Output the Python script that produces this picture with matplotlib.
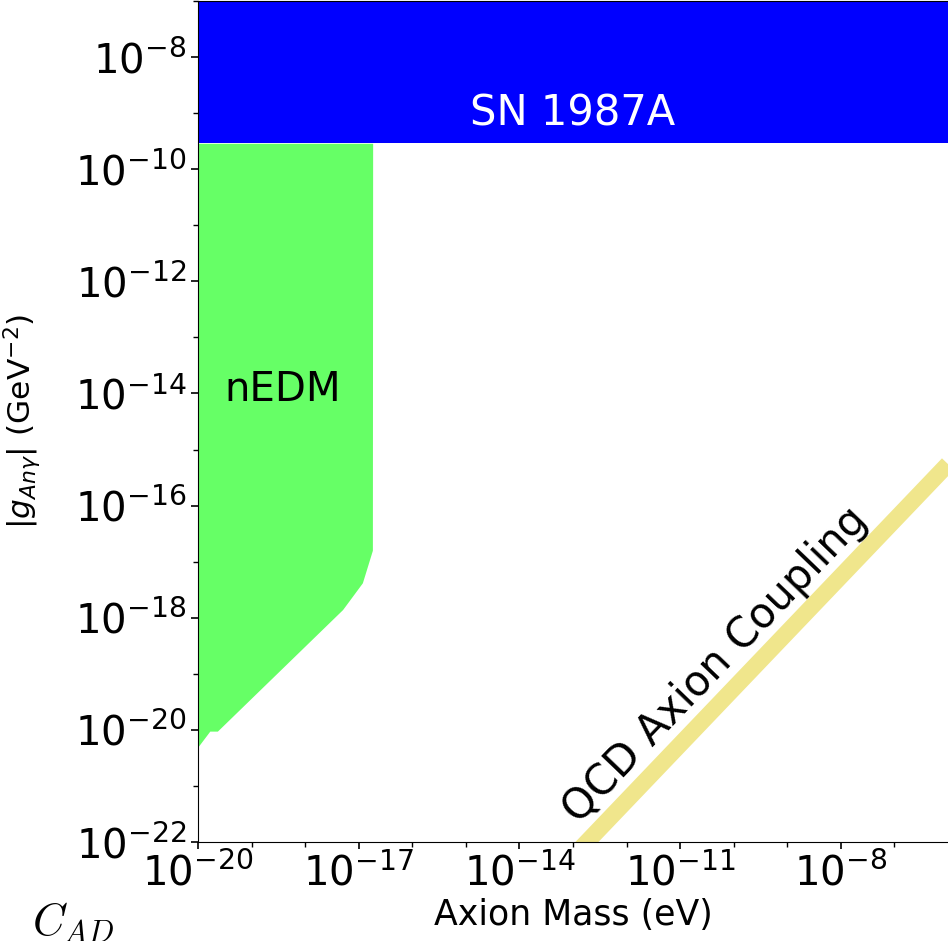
import numpy as np
import matplotlib.pyplot as plt
from matplotlib.ticker import NullFormatter

# bounds
sn_mass = [1e-20, 1e-6]
sn_g_low = [2.9e-10, 2.9e-10]
sn_g_high = [1e-6, 1e-6]

nedm_mass = [1e-20, 1.66e-20, 2.3e-20, 5.0e-18, 1.17e-17, 1.8e-17, 1.82e-17]
nedm_g_low = [5.0e-21, 9.5e-21, 9.5e-21, 1.4e-18, 4.2e-18, 1.6e-17, 2.9e-10]
nedm_g_high = [2.9e-10] * 7

qcd_mass = [1e-14, 1e-6]
qcd_g = [5.5e-24, 5.5e-16]

fig = plt.figure(figsize=(9.48, 9.41), dpi=100)
ax = fig.add_axes([198 / 948, 99 / 941, 750 / 948, 841 / 941])
ax.set_xscale('log')
ax.set_yscale('log')

ax.fill_between(sn_mass, sn_g_low, sn_g_high, color='#0000ff', lw=0)
ax.fill_between(nedm_mass, nedm_g_low, nedm_g_high, color='#66ff66', lw=0)
ax.plot(qcd_mass, qcd_g, color='khaki', lw=12, solid_capstyle='butt')

ax.text(1e-13, 1e-9, 'SN 1987A', color='white', fontsize=30, ha='center', va='center')
ax.text(10**-18.42, 10**-13.93, 'nEDM', color='black', fontsize=29, ha='center', va='center')
ax.text(10**-10.35, 10**-18.84, 'QCD Axion Coupling', fontsize=30, rotation=46.2,
        rotation_mode='anchor', ha='center', va='center')

ax.set_xlim(1e-20, 1e-6)
ax.set_ylim(1e-22, 1e-7)

ax.set_xticks([1e-20, 1e-17, 1e-14, 1e-11, 1e-8])
ax.set_xticks([10.0**k for k in range(-20, -6)], minor=True)
ax.set_yticks([10.0**k for k in range(-22, -7, 2)])
ax.set_yticks([10.0**k for k in range(-21, -6, 2)], minor=True)
ax.xaxis.set_minor_formatter(NullFormatter())
ax.yaxis.set_minor_formatter(NullFormatter())
ax.tick_params(which='major', labelsize=29, length=5, width=1.2)
ax.tick_params(which='minor', length=3.5, width=1)
ax.spines['right'].set_visible(False)

ax.set_xlabel('Axion Mass (eV)', fontsize=25, labelpad=2)
ax.set_ylabel(r'$|g_{An\gamma}|$ (GeV$^{-2}$)', fontsize=22.5)
ax.yaxis.set_label_coords(-0.208, 0.5)

fig.text(32 / 948, 7 / 941, r'$C_{AD}$', fontsize=32, math_fontfamily='cm',
         ha='left', va='baseline')

fig.savefig('out.png', dpi=100)
